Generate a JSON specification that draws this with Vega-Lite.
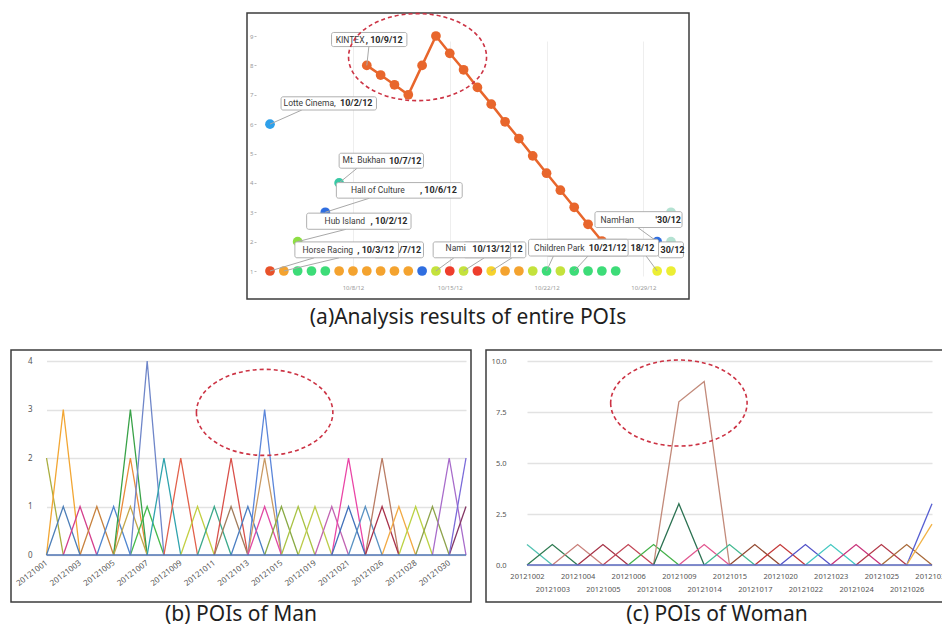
{
  "$schema": "https://vega.github.io/schema/vega-lite/v6.json",
  "background": "white",
  "padding": {"left": 10, "top": 9, "right": 0, "bottom": 0},
  "config": {
    "view": {"stroke": "#3c3c3c", "strokeWidth": 1.5},
    "font": "Noto Sans",
    "axis": {"labelFont": "Noto Sans", "labelOverlap": false, "labelBound": false, "labelFlush": false}
  },
  "datasets": {
    "a_points": [
      {"poi": "KINTEX", "day": 9, "value": 8.0},
      {"poi": "KINTEX", "day": 10, "value": 7.67},
      {"poi": "KINTEX", "day": 11, "value": 7.34},
      {"poi": "KINTEX", "day": 12, "value": 7.0},
      {"poi": "KINTEX", "day": 13, "value": 8.0},
      {"poi": "KINTEX", "day": 14, "value": 9.0},
      {"poi": "KINTEX", "day": 15, "value": 8.41},
      {"poi": "KINTEX", "day": 16, "value": 7.85},
      {"poi": "KINTEX", "day": 17, "value": 7.25},
      {"poi": "KINTEX", "day": 18, "value": 6.68},
      {"poi": "KINTEX", "day": 19, "value": 6.08},
      {"poi": "KINTEX", "day": 20, "value": 5.51},
      {"poi": "KINTEX", "day": 21, "value": 4.92},
      {"poi": "KINTEX", "day": 22, "value": 4.33},
      {"poi": "KINTEX", "day": 23, "value": 3.75},
      {"poi": "KINTEX", "day": 24, "value": 3.17},
      {"poi": "KINTEX", "day": 25, "value": 2.59},
      {"poi": "KINTEX", "day": 26, "value": 2.02},
      {"poi": "POI 8", "day": 2, "value": 6},
      {"poi": "POI 9", "day": 7, "value": 4},
      {"poi": "POI 4", "day": 6, "value": 3},
      {"poi": "POI 10", "day": 4, "value": 2},
      {"poi": "POI 4", "day": 30, "value": 2},
      {"poi": "POI 11", "day": 31, "value": 2},
      {"poi": "POI 11", "day": 31, "value": 3},
      {"poi": "POI 1", "day": 2, "value": 1},
      {"poi": "POI 2", "day": 3, "value": 1},
      {"poi": "POI 3", "day": 4, "value": 1},
      {"poi": "POI 3", "day": 5, "value": 1},
      {"poi": "POI 3", "day": 6, "value": 1},
      {"poi": "POI 2", "day": 7, "value": 1},
      {"poi": "POI 2", "day": 8, "value": 1},
      {"poi": "POI 2", "day": 9, "value": 1},
      {"poi": "POI 2", "day": 10, "value": 1},
      {"poi": "POI 2", "day": 11, "value": 1},
      {"poi": "POI 2", "day": 12, "value": 1},
      {"poi": "POI 4", "day": 13, "value": 1},
      {"poi": "POI 5", "day": 14, "value": 1},
      {"poi": "POI 6", "day": 15, "value": 1},
      {"poi": "POI 5", "day": 16, "value": 1},
      {"poi": "POI 6", "day": 17, "value": 1},
      {"poi": "POI 7", "day": 18, "value": 1},
      {"poi": "POI 2", "day": 19, "value": 1},
      {"poi": "POI 2", "day": 20, "value": 1},
      {"poi": "POI 5", "day": 21, "value": 1},
      {"poi": "POI 3", "day": 22, "value": 1},
      {"poi": "POI 5", "day": 23, "value": 1},
      {"poi": "POI 3", "day": 24, "value": 1},
      {"poi": "POI 3", "day": 25, "value": 1},
      {"poi": "POI 3", "day": 26, "value": 1},
      {"poi": "POI 3", "day": 27, "value": 1},
      {"poi": "POI 12", "day": 30, "value": 1},
      {"poi": "POI 12", "day": 31, "value": 1}
    ],
    "a_links": [
      {"day": 9, "value": 8, "day2": 9.15, "value2": 8.64},
      {"day": 2, "value": 6, "day2": 4.3, "value2": 6.48},
      {"day": 7, "value": 4, "day2": 8.3, "value2": 4.5},
      {"day": 6, "value": 3, "day2": 9.2, "value2": 3.48},
      {"day": 4, "value": 2, "day2": 7.5, "value2": 2.42},
      {"day": 2, "value": 1, "day2": 5.2, "value2": 1.45},
      {"day": 3, "value": 1, "day2": 7.0, "value2": 1.45},
      {"day": 14, "value": 1, "day2": 15.3, "value2": 1.45},
      {"day": 16, "value": 1, "day2": 17.5, "value2": 1.45},
      {"day": 18, "value": 1, "day2": 19.5, "value2": 1.45},
      {"day": 22, "value": 1, "day2": 22.5, "value2": 1.51},
      {"day": 24, "value": 1, "day2": 25, "value2": 1.51},
      {"day": 30, "value": 2, "day2": 28.6, "value2": 2.48},
      {"day": 30, "value": 1, "day2": 29.2, "value2": 1.51}
    ],
    "a_boxes": [
      {"day": 7.0, "day2": 13.1, "value": 4.5, "value2": 5.01},
      {"day": 6.8, "day2": 15.9, "value": 3.48, "value2": 4.01},
      {"day": 2.8, "day2": 9.7, "value": 6.48, "value2": 6.93},
      {"day": 6.45, "day2": 11.9, "value": 8.64, "value2": 9.12},
      {"day": 4.65, "day2": 12.2, "value": 2.42, "value2": 2.97},
      {"day": 9.5, "day2": 13.1, "value": 1.45, "value2": 1.99},
      {"day": 3.8, "day2": 11.3, "value": 1.45, "value2": 1.99},
      {"day": 16.0, "day2": 20.5, "value": 1.45, "value2": 1.99},
      {"day": 13.8, "day2": 19.4, "value": 1.45, "value2": 1.99},
      {"day": 22.0, "day2": 30.1, "value": 1.51, "value2": 2.08},
      {"day": 20.7, "day2": 27.9, "value": 1.51, "value2": 2.08},
      {"day": 25.5, "day2": 31.8, "value": 2.48, "value2": 3.02},
      {"day": 30.1, "day2": 31.9, "value": 1.45, "value2": 1.99}
    ],
    "a_names": [
      {"day": 6.75, "value": 8.88, "label": "KINTEX"},
      {"day": 2.98, "value": 6.71, "label": "Lotte Cinema,"},
      {"day": 7.25, "value": 4.77, "label": "Mt. Bukhan"},
      {"day": 7.85, "value": 3.76, "label": "Hall of Culture"},
      {"day": 5.95, "value": 2.71, "label": "Hub Island"},
      {"day": 4.35, "value": 1.73, "label": "Horse Racing"},
      {"day": 14.7, "value": 1.77, "label": "Nami"},
      {"day": 21.1, "value": 1.8, "label": "Children Park"},
      {"day": 25.9, "value": 2.74, "label": "NamHan"}
    ],
    "a_dates": [
      {"day": 8.92, "value": 8.86, "label": ", 10/9/12"},
      {"day": 7.06, "value": 6.71, "label": "10/2/12"},
      {"day": 10.6, "value": 4.76, "label": "10/7/12"},
      {"day": 12.84, "value": 3.75, "label": ", 10/6/12"},
      {"day": 9.27, "value": 2.7, "label": ", 10/2/12"},
      {"day": 8.31, "value": 1.72, "label": ", 10/3/12"},
      {"day": 11.33, "value": 1.72, "label": "/7/12"},
      {"day": 16.63, "value": 1.75, "label": "10/13/12"},
      {"day": 19.52, "value": 1.75, "label": "12"},
      {"day": 25.06, "value": 1.78, "label": "10/21/12"},
      {"day": 28.07, "value": 1.8, "label": "18/12"},
      {"day": 29.88, "value": 2.73, "label": "'30/12"},
      {"day": 30.24, "value": 1.72, "label": "30/12"}
    ],
    "a_focus": [{"day": 12.67, "value": 8.28}],
    "man": [
      {"poi": "m01", "date": "20121001", "visits": 2}, {"poi": "m01", "date": "20121002", "visits": 0},
      {"poi": "m02", "date": "20121001", "visits": 0}, {"poi": "m02", "date": "20121002", "visits": 3}, {"poi": "m02", "date": "20121003", "visits": 0},
      {"poi": "m03", "date": "20121001", "visits": 0}, {"poi": "m03", "date": "20121002", "visits": 1}, {"poi": "m03", "date": "20121003", "visits": 0},
      {"poi": "m04", "date": "20121002", "visits": 0}, {"poi": "m04", "date": "20121003", "visits": 1}, {"poi": "m04", "date": "20121004", "visits": 0},
      {"poi": "m05", "date": "20121003", "visits": 0}, {"poi": "m05", "date": "20121004", "visits": 1}, {"poi": "m05", "date": "20121005", "visits": 0},
      {"poi": "m06", "date": "20121004", "visits": 0}, {"poi": "m06", "date": "20121005", "visits": 1}, {"poi": "m06", "date": "20121006", "visits": 0},
      {"poi": "m07", "date": "20121005", "visits": 0}, {"poi": "m07", "date": "20121006", "visits": 2}, {"poi": "m07", "date": "20121007", "visits": 0},
      {"poi": "m08", "date": "20121005", "visits": 0}, {"poi": "m08", "date": "20121006", "visits": 3}, {"poi": "m08", "date": "20121007", "visits": 0},
      {"poi": "m09", "date": "20121005", "visits": 0}, {"poi": "m09", "date": "20121006", "visits": 1}, {"poi": "m09", "date": "20121007", "visits": 0},
      {"poi": "m10", "date": "20121006", "visits": 0}, {"poi": "m10", "date": "20121007", "visits": 1}, {"poi": "m10", "date": "20121008", "visits": 0},
      {"poi": "m11", "date": "20121006", "visits": 0}, {"poi": "m11", "date": "20121007", "visits": 4}, {"poi": "m11", "date": "20121008", "visits": 0},
      {"poi": "m12", "date": "20121007", "visits": 0}, {"poi": "m12", "date": "20121008", "visits": 2}, {"poi": "m12", "date": "20121009", "visits": 0},
      {"poi": "m13", "date": "20121008", "visits": 0}, {"poi": "m13", "date": "20121009", "visits": 2}, {"poi": "m13", "date": "20121010", "visits": 0},
      {"poi": "m14", "date": "20121009", "visits": 0}, {"poi": "m14", "date": "20121010", "visits": 1}, {"poi": "m14", "date": "20121011", "visits": 0},
      {"poi": "m15", "date": "20121010", "visits": 0}, {"poi": "m15", "date": "20121011", "visits": 1}, {"poi": "m15", "date": "20121012", "visits": 0},
      {"poi": "m16", "date": "20121011", "visits": 0}, {"poi": "m16", "date": "20121012", "visits": 2}, {"poi": "m16", "date": "20121013", "visits": 0},
      {"poi": "m17", "date": "20121011", "visits": 0}, {"poi": "m17", "date": "20121012", "visits": 1}, {"poi": "m17", "date": "20121013", "visits": 0},
      {"poi": "m18", "date": "20121012", "visits": 0}, {"poi": "m18", "date": "20121013", "visits": 1}, {"poi": "m18", "date": "20121014", "visits": 0},
      {"poi": "m19", "date": "20121013", "visits": 0}, {"poi": "m19", "date": "20121014", "visits": 3}, {"poi": "m19", "date": "20121015", "visits": 0},
      {"poi": "m20", "date": "20121013", "visits": 0}, {"poi": "m20", "date": "20121014", "visits": 2}, {"poi": "m20", "date": "20121015", "visits": 0},
      {"poi": "m21", "date": "20121013", "visits": 0}, {"poi": "m21", "date": "20121014", "visits": 1}, {"poi": "m21", "date": "20121015", "visits": 0},
      {"poi": "m22", "date": "20121014", "visits": 0}, {"poi": "m22", "date": "20121015", "visits": 1}, {"poi": "m22", "date": "20121017", "visits": 0},
      {"poi": "m23", "date": "20121015", "visits": 0}, {"poi": "m23", "date": "20121017", "visits": 1}, {"poi": "m23", "date": "20121019", "visits": 0},
      {"poi": "m24", "date": "20121017", "visits": 0}, {"poi": "m24", "date": "20121019", "visits": 1}, {"poi": "m24", "date": "20121020", "visits": 0},
      {"poi": "m25", "date": "20121019", "visits": 0}, {"poi": "m25", "date": "20121020", "visits": 1}, {"poi": "m25", "date": "20121021", "visits": 0},
      {"poi": "m26", "date": "20121020", "visits": 0}, {"poi": "m26", "date": "20121021", "visits": 2}, {"poi": "m26", "date": "20121024", "visits": 0},
      {"poi": "m27", "date": "20121020", "visits": 0}, {"poi": "m27", "date": "20121021", "visits": 1}, {"poi": "m27", "date": "20121024", "visits": 0},
      {"poi": "m28", "date": "20121021", "visits": 0}, {"poi": "m28", "date": "20121024", "visits": 1}, {"poi": "m28", "date": "20121026", "visits": 0},
      {"poi": "m29", "date": "20121024", "visits": 0}, {"poi": "m29", "date": "20121026", "visits": 2}, {"poi": "m29", "date": "20121027", "visits": 0},
      {"poi": "m30", "date": "20121024", "visits": 0}, {"poi": "m30", "date": "20121026", "visits": 1}, {"poi": "m30", "date": "20121027", "visits": 0},
      {"poi": "m31", "date": "20121026", "visits": 0}, {"poi": "m31", "date": "20121027", "visits": 1}, {"poi": "m31", "date": "20121028", "visits": 0},
      {"poi": "m32", "date": "20121027", "visits": 0}, {"poi": "m32", "date": "20121028", "visits": 1}, {"poi": "m32", "date": "20121029", "visits": 0},
      {"poi": "m33", "date": "20121028", "visits": 0}, {"poi": "m33", "date": "20121029", "visits": 1}, {"poi": "m33", "date": "20121030", "visits": 0},
      {"poi": "m34", "date": "20121029", "visits": 0}, {"poi": "m34", "date": "20121030", "visits": 2}, {"poi": "m34", "date": "20121031", "visits": 0},
      {"poi": "m35", "date": "20121030", "visits": 0}, {"poi": "m35", "date": "20121031", "visits": 1},
      {"poi": "m36", "date": "20121030", "visits": 0}, {"poi": "m36", "date": "20121031", "visits": 2}
    ],
    "man_base": [
      {"date": "20121001", "visits": 0}, {"date": "20121031", "visits": 0}
    ],
    "woman": [
      {"poi": "w01", "date": "20121002", "visits": 1}, {"poi": "w01", "date": "20121003", "visits": 0},
      {"poi": "w02", "date": "20121002", "visits": 0}, {"poi": "w02", "date": "20121003", "visits": 1}, {"poi": "w02", "date": "20121004", "visits": 0},
      {"poi": "w03", "date": "20121003", "visits": 0}, {"poi": "w03", "date": "20121004", "visits": 1}, {"poi": "w03", "date": "20121005", "visits": 0},
      {"poi": "w04", "date": "20121004", "visits": 0}, {"poi": "w04", "date": "20121005", "visits": 1}, {"poi": "w04", "date": "20121006", "visits": 0},
      {"poi": "w05", "date": "20121005", "visits": 0}, {"poi": "w05", "date": "20121006", "visits": 1}, {"poi": "w05", "date": "20121008", "visits": 0},
      {"poi": "w06", "date": "20121006", "visits": 0}, {"poi": "w06", "date": "20121008", "visits": 1}, {"poi": "w06", "date": "20121009", "visits": 0},
      {"poi": "w07", "date": "20121008", "visits": 0}, {"poi": "w07", "date": "20121009", "visits": 8}, {"poi": "w07", "date": "20121014", "visits": 9}, {"poi": "w07", "date": "20121015", "visits": 0},
      {"poi": "w08", "date": "20121008", "visits": 0}, {"poi": "w08", "date": "20121009", "visits": 3}, {"poi": "w08", "date": "20121014", "visits": 0},
      {"poi": "w09", "date": "20121009", "visits": 0}, {"poi": "w09", "date": "20121014", "visits": 1}, {"poi": "w09", "date": "20121015", "visits": 0},
      {"poi": "w10", "date": "20121014", "visits": 0}, {"poi": "w10", "date": "20121015", "visits": 1}, {"poi": "w10", "date": "20121017", "visits": 0},
      {"poi": "w11", "date": "20121015", "visits": 0}, {"poi": "w11", "date": "20121017", "visits": 1}, {"poi": "w11", "date": "20121020", "visits": 0},
      {"poi": "w12", "date": "20121017", "visits": 0}, {"poi": "w12", "date": "20121020", "visits": 1}, {"poi": "w12", "date": "20121022", "visits": 0},
      {"poi": "w13", "date": "20121020", "visits": 0}, {"poi": "w13", "date": "20121022", "visits": 1}, {"poi": "w13", "date": "20121023", "visits": 0},
      {"poi": "w14", "date": "20121022", "visits": 0}, {"poi": "w14", "date": "20121023", "visits": 1}, {"poi": "w14", "date": "20121024", "visits": 0},
      {"poi": "w15", "date": "20121023", "visits": 0}, {"poi": "w15", "date": "20121024", "visits": 1}, {"poi": "w15", "date": "20121025", "visits": 0},
      {"poi": "w16", "date": "20121024", "visits": 0}, {"poi": "w16", "date": "20121025", "visits": 1}, {"poi": "w16", "date": "20121026", "visits": 0},
      {"poi": "w17", "date": "20121025", "visits": 0}, {"poi": "w17", "date": "20121026", "visits": 1}, {"poi": "w17", "date": "20121031", "visits": 0},
      {"poi": "w18", "date": "20121026", "visits": 0}, {"poi": "w18", "date": "20121031", "visits": 3},
      {"poi": "w19", "date": "20121026", "visits": 0}, {"poi": "w19", "date": "20121031", "visits": 2}
    ],
    "woman_base": [
      {"date": "20121002", "visits": 0}, {"date": "20121031", "visits": 0}
    ]
  },
  "resolve": {"scale": {"color": "independent"}},
  "spacing": 20,
  "vconcat": [
    {
      "spacing": 10,
      "resolve": {"scale": {"color": "independent"}},
      "hconcat": [
        {
          "width": 225,
          "height": 286,
          "data": {"values": []},
          "mark": {"type": "point", "opacity": 0},
          "view": {"stroke": null}
        },
        {
          "width": 442,
          "height": 286,
          "title": {"text": "(a)Analysis results of entire POIs", "orient": "bottom", "anchor": "middle", "offset": 8, "fontSize": 21, "fontWeight": "normal", "font": "Noto Sans", "color": "#1e1e1e"},
          "layer": [
            {
              "data": {"name": "a_points"},
              "transform": [{"filter": "datum.poi === 'KINTEX'"}],
              "mark": {"type": "line", "color": "#e8662c", "strokeWidth": 2.5},
              "encoding": {
                "x": {"field": "day", "type": "quantitative", "title": null,
                  "scale": {"domain": [2, 31], "range": [23, 424], "zero": false, "nice": false},
                  "axis": {"values": [8, 15, 22, 29], "tickCount": 40, "labelExpr": "'10/' + datum.value + '/12'", "labelFontSize": 6, "labelColor": "#9a9a9a", "labelOverlap": false, "labelBound": false, "labelFlush": false, "domain": false, "ticks": false, "grid": true, "gridColor": "#eeeeee", "offset": -18, "labelPadding": 3}},
                "y": {"field": "value", "type": "quantitative", "title": null,
                  "scale": {"domain": [1, 9], "range": [258, 23], "zero": false, "nice": false},
                  "axis": {"values": [1, 2, 3, 4, 5, 6, 7, 8, 9], "tickCount": 40, "format": "d", "labelFontSize": 6, "labelColor": "#9a9a9a", "labelOverlap": false, "labelBound": false, "labelFlush": false, "domain": false, "tickSize": 2, "tickColor": "#bbbbbb", "grid": false, "offset": -9, "labelPadding": 1}}
              }
            },
            {
              "data": {"name": "a_points"},
              "mark": {"type": "circle", "size": 95, "opacity": 1},
              "encoding": {
                "x": {"field": "day", "type": "quantitative", "title": null},
                "y": {"field": "value", "type": "quantitative", "title": null},
                "color": {"field": "poi", "type": "nominal", "legend": null,
                  "scale": {
                    "domain": ["KINTEX", "POI 1", "POI 2", "POI 3", "POI 4", "POI 5", "POI 6", "POI 7", "POI 8", "POI 9", "POI 10", "POI 11", "POI 12"],
                    "range": ["#e8662c", "#e8522a", "#f4a32f", "#3ddc78", "#2f6ee0", "#c4e23c", "#ee3e2c", "#f6d22c", "#2ea0ea", "#38c8a4", "#8ede44", "#b4e2d2", "#ecee34"]}}
              }
            },
            {
              "data": {"name": "a_links"},
              "mark": {"type": "rule", "color": "#a8a8a8", "strokeWidth": 1},
              "encoding": {
                "x": {"field": "day", "type": "quantitative", "title": null},
                "y": {"field": "value", "type": "quantitative", "title": null},
                "x2": {"field": "day2"},
                "y2": {"field": "value2"}
              }
            },
            {
              "data": {"name": "a_boxes"},
              "mark": {"type": "rect", "fill": "white", "stroke": "#b0b0b0", "strokeWidth": 1, "cornerRadius": 2},
              "encoding": {
                "x": {"field": "day", "type": "quantitative", "title": null},
                "y": {"field": "value", "type": "quantitative", "title": null},
                "x2": {"field": "day2"},
                "y2": {"field": "value2"}
              }
            },
            {
              "data": {"name": "a_names"},
              "mark": {"type": "text", "align": "left", "baseline": "middle", "fontSize": 8.5, "font": "Roboto", "color": "#3a3a3a"},
              "encoding": {
                "x": {"field": "day", "type": "quantitative", "title": null},
                "y": {"field": "value", "type": "quantitative", "title": null},
                "text": {"field": "label"}
              }
            },
            {
              "data": {"name": "a_dates"},
              "mark": {"type": "text", "align": "left", "baseline": "middle", "fontSize": 9, "font": "Roboto", "fontWeight": "bold", "color": "#2a2a2a"},
              "encoding": {
                "x": {"field": "day", "type": "quantitative", "title": null},
                "y": {"field": "value", "type": "quantitative", "title": null},
                "text": {"field": "label"}
              }
            },
            {
              "data": {"name": "a_focus"},
              "mark": {"type": "point", "shape": "M -1.586 0 A 1.586 1 0 1 0 1.586 0 A 1.586 1 0 1 0 -1.586 0 Z", "size": 7569, "filled": false, "color": "#cc3344", "strokeWidth": 1.6, "strokeDash": [4, 3], "opacity": 1},
              "encoding": {
                "x": {"field": "day", "type": "quantitative", "title": null},
                "y": {"field": "value", "type": "quantitative", "title": null}
              }
            }
          ]
        }
      ]
    },
    {
      "spacing": 13,
      "resolve": {"scale": {"color": "independent"}},
      "hconcat": [
        {
          "width": 460,
          "height": 252,
          "title": {"text": "(b) POIs of Man", "orient": "bottom", "anchor": "middle", "offset": 2, "fontSize": 21, "fontWeight": "normal", "font": "Noto Sans", "color": "#1e1e1e"},
          "layer": [
            {
              "data": {"name": "man"},
              "mark": {"type": "line", "strokeWidth": 1.3},
              "encoding": {
                "x": {"field": "date", "type": "nominal", "title": null,
                  "scale": {"type": "point", "domain": ["20121001", "20121002", "20121003", "20121004", "20121005", "20121006", "20121007", "20121008", "20121009", "20121010", "20121011", "20121012", "20121013", "20121014", "20121015", "20121017", "20121019", "20121020", "20121021", "20121024", "20121026", "20121027", "20121028", "20121029", "20121030", "20121031"], "range": [35.5, 455], "padding": 0},
                  "axis": {"values": ["20121001", "20121003", "20121005", "20121007", "20121009", "20121011", "20121013", "20121015", "20121019", "20121021", "20121026", "20121028", "20121030"], "tickCount": 40, "labelAngle": -37, "labelAlign": "right", "labelBaseline": "middle", "labelFontSize": 8, "labelColor": "#555555", "labelOverlap": false, "labelBound": false, "labelFlush": false, "domain": false, "ticks": false, "grid": false, "offset": -47, "labelPadding": 7}},
                "y": {"field": "visits", "type": "quantitative", "title": null,
                  "scale": {"domain": [0, 4], "range": [205, 11], "nice": false},
                  "axis": {"values": [0, 1, 2, 3, 4], "tickCount": 40, "format": "d", "labelFontSize": 8, "labelColor": "#555555", "labelOverlap": false, "labelBound": false, "labelFlush": false, "domain": false, "ticks": false, "grid": true, "gridColor": "#e2e2e2", "gridWidth": 1.5, "offset": -23, "labelPadding": 2}},
                "color": {"field": "poi", "type": "nominal", "legend": null,
                  "scale": {
                    "domain": ["m01", "m02", "m03", "m04", "m05", "m06", "m07", "m08", "m09", "m10", "m11", "m12", "m13", "m14", "m15", "m16", "m17", "m18", "m19", "m20", "m21", "m22", "m23", "m24", "m25", "m26", "m27", "m28", "m29", "m30", "m31", "m32", "m33", "m34", "m35", "m36"],
                    "range": ["#a9ad3e", "#f2a633", "#4d7fb8", "#d43f8d", "#c8823e", "#4f86cf", "#ea8a3a", "#38a247", "#c4a84a", "#45bb4c", "#6f86c9", "#2fa3ad", "#e2614b", "#c3cf42", "#3ca98b", "#d9504a", "#a27c5c", "#4b7ec2", "#5b86da", "#c99a63", "#e24aa4", "#89aa44", "#a9c344", "#bccc4a", "#c264b2", "#ea45a6", "#4372ba", "#5b93c3", "#b97c64", "#a9334b", "#f2aa44", "#bbd244", "#8ea34c", "#a86ccb", "#833563", "#7a6ad9"]}}
              }
            },
            {
              "data": {"name": "man_base"},
              "mark": {"type": "line", "strokeWidth": 1.5, "color": "#4f74b4"},
              "encoding": {
                "x": {"field": "date", "type": "nominal", "title": null},
                "y": {"field": "visits", "type": "quantitative", "title": null}
              }
            },
            {
              "data": {"values": [{"date": "20121014", "visits": 2.94}]},
              "mark": {"type": "point", "shape": "M -1.586 0 A 1.586 1 0 1 0 1.586 0 A 1.586 1 0 1 0 -1.586 0 Z", "size": 7400, "filled": false, "color": "#cc3344", "strokeWidth": 1.6, "strokeDash": [4, 3], "opacity": 1, "dx": 8},
              "encoding": {
                "x": {"field": "date", "type": "nominal", "title": null},
                "y": {"field": "visits", "type": "quantitative", "title": null}
              }
            }
          ]
        },
        {
          "width": 462,
          "height": 252,
          "title": {"text": "(c) POIs of Woman", "orient": "bottom", "anchor": "middle", "offset": 2, "fontSize": 21, "fontWeight": "normal", "font": "Noto Sans", "color": "#1e1e1e"},
          "layer": [
            {
              "data": {"name": "woman"},
              "mark": {"type": "line", "strokeWidth": 1.3},
              "encoding": {
                "x": {"field": "date", "type": "nominal", "title": null,
                  "scale": {"type": "point", "domain": ["20121002", "20121003", "20121004", "20121005", "20121006", "20121008", "20121009", "20121014", "20121015", "20121017", "20121020", "20121022", "20121023", "20121024", "20121025", "20121026", "20121031"], "range": [41, 446], "padding": 0},
                  "axis": {"labelAngle": 0, "labelAlign": "center", "labelBaseline": "top", "labelFontSize": 7.5, "labelColor": "#555555", "labelLineHeight": 13, "labelOverlap": false, "labelBound": false, "labelFlush": false, "labelExpr": "round(datum.index * 16) % 2 == 1 ? ['', datum.label] : datum.label", "domain": false, "ticks": false, "grid": false, "offset": -37, "labelPadding": 7}},
                "y": {"field": "visits", "type": "quantitative", "title": null,
                  "scale": {"domain": [0, 10], "range": [215, 11], "nice": false},
                  "axis": {"values": [0, 2.5, 5, 7.5, 10], "tickCount": 40, "format": ".1f", "labelFontSize": 7.5, "labelColor": "#555555", "labelOverlap": false, "labelBound": false, "labelFlush": false, "domain": false, "ticks": false, "grid": true, "gridColor": "#e2e2e2", "gridWidth": 1.5, "offset": -22, "labelPadding": 2}},
                "color": {"field": "poi", "type": "nominal", "legend": null,
                  "scale": {
                    "domain": ["w01", "w02", "w03", "w04", "w05", "w06", "w07", "w08", "w09", "w10", "w11", "w12", "w13", "w14", "w15", "w16", "w17", "w18", "w19"],
                    "range": ["#52c2b2", "#2f7b52", "#c9807a", "#a63347", "#c24757", "#45b24a", "#c28a7a", "#2c7252", "#e2578f", "#44ba92", "#944b33", "#c43a3a", "#5454c9", "#45c9c2", "#c9347b", "#b33a4a", "#a96a3a", "#555dd2", "#f2b244"]}}
              }
            },
            {
              "data": {"name": "woman_base"},
              "mark": {"type": "line", "strokeWidth": 1.5, "color": "#5a68bf"},
              "encoding": {
                "x": {"field": "date", "type": "nominal", "title": null},
                "y": {"field": "visits", "type": "quantitative", "title": null}
              }
            },
            {
              "data": {"values": [{"date": "20121009", "visits": 7.94}]},
              "mark": {"type": "point", "shape": "M -1.586 0 A 1.586 1 0 1 0 1.586 0 A 1.586 1 0 1 0 -1.586 0 Z", "size": 7400, "filled": false, "color": "#cc3344", "strokeWidth": 1.6, "strokeDash": [4, 3], "opacity": 1, "dx": 12.7},
              "encoding": {
                "x": {"field": "date", "type": "nominal", "title": null},
                "y": {"field": "visits", "type": "quantitative", "title": null}
              }
            }
          ]
        }
      ]
    }
  ]
}
